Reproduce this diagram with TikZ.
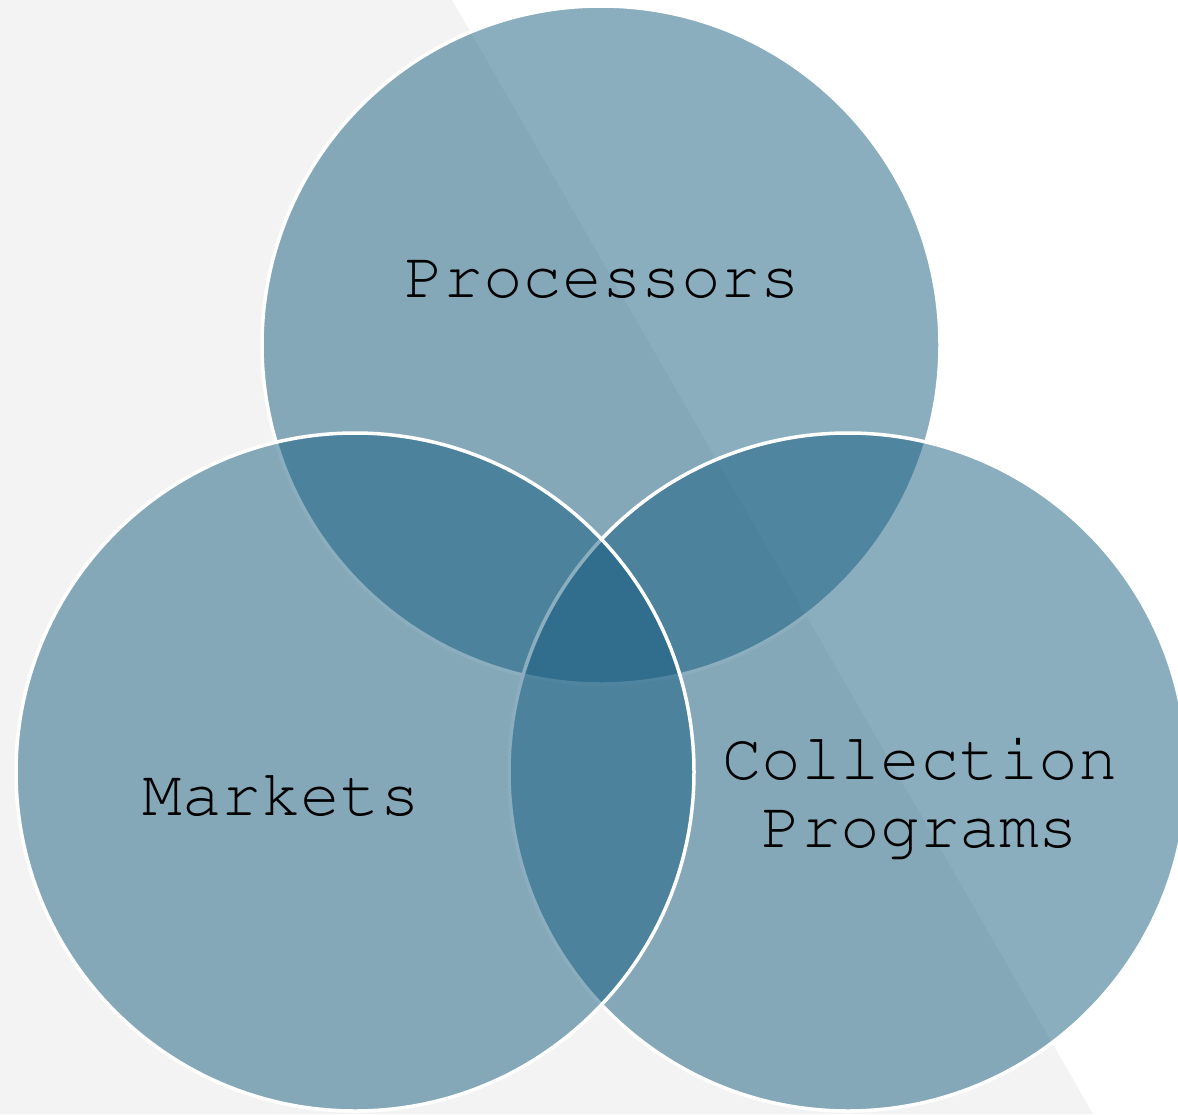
\documentclass[tikz,border=0pt]{standalone}
\usepackage[T1]{fontenc}
\definecolor{bggray}{HTML}{F3F3F3}
\definecolor{venn}{RGB}{20,91,126}
\tikzset{
  venncircle/.style={fill=venn, fill opacity=0.49, draw=white, draw opacity=1, line width=3.5pt},
  lbl/.style={font=\fontfamily{pcr}\fontsize{66}{68}\selectfont, inner sep=0pt, text=black, align=center}
}
\begin{document}
\begin{tikzpicture}[x=1pt,y=-1pt]
\useasboundingbox (0,0) rectangle (1178,1114);
\fill[white] (0,0) rectangle (1178,1114);
\fill[bggray] (0,0) -- (452,0) -- (1093,1114) -- (0,1114) -- cycle;
\coordinate (ctop) at (601,345);
\coordinate (cright) at (848,772);
\coordinate (cleft) at (355,772);
\path[venncircle] (ctop) circle[radius=339];
\path[venncircle] (cright) circle[radius=339];
\path[venncircle] (cleft) circle[radius=339];
\node[lbl, anchor=base] (proc) at (602,297) {Processors};
\node[lbl, anchor=base] (mark) at (281,815) {Markets};
\node[lbl, anchor=center] (coll) at (920,797) {Collection\\Programs};
\end{tikzpicture}
\end{document}
